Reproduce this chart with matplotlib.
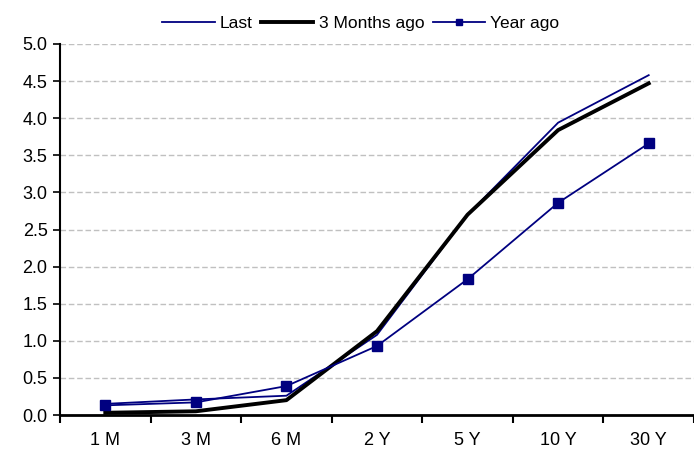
import matplotlib
matplotlib.use("Agg")
import matplotlib.pyplot as plt
import numpy as np

# data
tenors = ["1 M", "3 M", "6 M", "2 Y", "5 Y", "10 Y", "30 Y"]
last = [0.15, 0.21, 0.26, 1.08, 2.70, 3.94, 4.58]
three_months_ago = [0.03, 0.05, 0.20, 1.13, 2.70, 3.84, 4.47]
year_ago = [0.13, 0.17, 0.39, 0.93, 1.83, 2.86, 3.66]

plt.rcParams["font.family"] = ["Liberation Sans", "DejaVu Sans"]

fig = plt.figure(figsize=(6.94, 4.51), dpi=100)
ax = fig.add_axes([60 / 694, 36 / 451, 634 / 694, 371 / 451])

x = np.arange(len(tenors))
navy = "#000080"
ax.plot(x, last, color=navy, lw=1.3, label="Last", zorder=3)
ax.plot(x, three_months_ago, color="black", lw=2.8, label="3 Months ago", zorder=4)
ax.plot(x, year_ago, color=navy, lw=1.3, marker="s", ms=7, label="Year ago", zorder=5)

ax.set_xlim(-0.5, len(tenors) - 0.5)
ax.set_ylim(0, 5.0)
yt = np.arange(0, 5.01, 0.5)
ax.set_yticks(yt)
ax.set_yticklabels([f"{v:.1f}" for v in yt], fontsize=13)

# category boundaries as major ticks, labels at the centres
ax.set_xticks(np.arange(-0.5, len(tenors), 1.0))
ax.set_xticklabels([])
ax.set_xticks(x, minor=True)
ax.set_xticklabels(tenors, minor=True, fontsize=13)
ax.tick_params(axis="x", which="major", length=6, width=1.5, direction="out")
ax.tick_params(axis="x", which="minor", length=0, pad=12)
ax.tick_params(axis="y", length=5, width=1.2, direction="out", pad=4)

ax.yaxis.grid(True, color="#c0c0c0", linestyle=(0, (4, 2)), lw=1)
ax.set_axisbelow(True)
for s in ["top", "right"]:
    ax.spines[s].set_visible(False)
ax.spines["left"].set_linewidth(1.5)
ax.spines["bottom"].set_linewidth(2)

fig.legend(loc="upper center", bbox_to_anchor=(0.52, 1.0), ncol=3, frameon=False,
           fontsize=12.5, handlelength=3.0, columnspacing=0.5, handletextpad=0.3,
           markerscale=0.6)

fig.savefig("out.png", dpi=100)
